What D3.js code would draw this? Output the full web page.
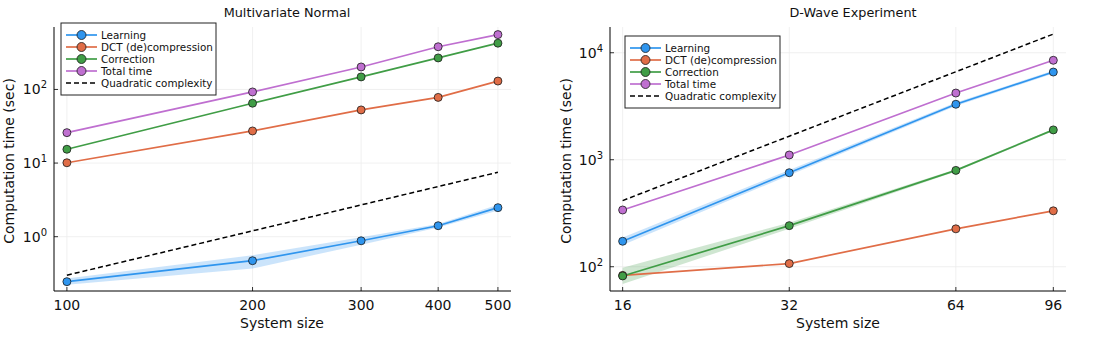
<!DOCTYPE html>
<html>
<head>
<meta charset="utf-8">
<script src="https://cdn.jsdelivr.net/npm/d3@7"></script>
<style>
  body { margin: 0; background: #fff; }
  svg text { font-family: "DejaVu Sans", sans-serif; fill: #111; }
</style>
</head>
<body>
<div id="chart"></div>
<script>
// ---- data: Multivariate Normal (left) ----
var mvnSizes = [100, 200, 300, 400, 500]
var mvnLearning = [0.245, 0.472, 0.88, 1.41, 2.48]
var mvnLearningLo = [0.222, 0.37, 0.78, 1.33, 2.27]
var mvnLearningHi = [0.27, 0.56, 0.98, 1.49, 2.72]
var mvnDct = [10.1, 27.3, 52.7, 78, 130]
var mvnCorrection = [15.4, 65, 148, 268, 425]
var mvnTotal = [25.9, 92.5, 202, 380, 556]
var mvnQuadratic = [0.3, 1.2, 2.7, 4.8, 7.5]

// ---- data: D-Wave Experiment (right) ----
var dwSizes = [16, 32, 64, 96]
var dwLearning = [173, 756, 3300, 6600]
var dwLearningLo = [160, 715, 3180, 6380]
var dwLearningHi = [188, 800, 3420, 6820]
var dwDct = [83, 107, 226, 333]
var dwCorrection = [82, 242, 795, 1900]
var dwCorrectionLo = [69, 227, 775, 1860]
var dwCorrectionHi = [98, 258, 815, 1940]
var dwTotal = [339, 1107, 4200, 8500]
var dwQuadratic = [415, 1660, 6640, 14940]

var xTicksMvn = [100, 200, 300, 400, 500]
var xTicksDw = [16, 32, 64, 96]
var yTicksMvn = [0, 1, 2]   // exponents
var yTicksDw = [2, 3, 4]

var seriesNames = ["Learning", "DCT (de)compression", "Correction", "Total time", "Quadratic complexity"]
var colors = ["#2f95ee", "#e06d47", "#409d46", "#bf6fd0"]

var width = 1110
var height = 337

var svg = d3.select("#chart").append("svg")
    .attr("width", width)
    .attr("height", height)

function draw_panel(p) {
    var g = svg.append("g")
    var x = d3.scaleLog().domain(p.xDomain).range([p.left, p.right])
    var y = d3.scaleLog().domain(p.yDomain).range([p.bottom, p.top])

    // grid
    g.selectAll(".gx").data(p.xTicks).enter().append("line")
        .attr("x1", d => x(d)).attr("x2", d => x(d))
        .attr("y1", p.top).attr("y2", p.bottom)
        .attr("stroke", "#ececec").attr("stroke-width", 0.8)
    g.selectAll(".gy").data(p.yTicks).enter().append("line")
        .attr("x1", p.left).attr("x2", p.right)
        .attr("y1", d => y(Math.pow(10, d))).attr("y2", d => y(Math.pow(10, d)))
        .attr("stroke", "#ececec").attr("stroke-width", 0.8)

    // ribbons
    p.bands.forEach(function(b) {
        var area = d3.area()
            .x((d, i) => x(p.sizes[i]))
            .y0((d, i) => y(b.lo[i]))
            .y1((d, i) => y(b.hi[i]))
        g.append("path").datum(b.lo)
            .attr("d", area)
            .attr("fill", b.color)
            .attr("opacity", 0.25)
    })

    var line = d3.line().x((d, i) => x(p.sizes[i])).y(d => y(d))

    // quadratic reference
    g.append("path").datum(p.quad)
        .attr("d", line)
        .attr("fill", "none")
        .attr("stroke", "#000")
        .attr("stroke-width", 1.5)
        .attr("stroke-dasharray", "5,3")

    p.series.forEach(function(s, k) {
        g.append("path").datum(s)
            .attr("d", line)
            .attr("fill", "none")
            .attr("stroke", colors[k])
            .attr("stroke-width", 1.7)
    })
    p.series.forEach(function(s, k) {
        g.selectAll(null).data(s).enter().append("circle")
            .attr("cx", (d, i) => x(p.sizes[i]))
            .attr("cy", d => y(d))
            .attr("r", 4)
            .attr("fill", colors[k])
            .attr("stroke", "#1a1a1a")
            .attr("stroke-width", 0.8)
    })

    // axes (left + bottom spines)
    g.append("line").attr("x1", p.left).attr("x2", p.left)
        .attr("y1", p.top).attr("y2", p.bottom)
        .attr("stroke", "#000").attr("stroke-width", 1)
    g.append("line").attr("x1", p.left).attr("x2", p.right)
        .attr("y1", p.bottom).attr("y2", p.bottom)
        .attr("stroke", "#000").attr("stroke-width", 1)
    g.selectAll(".tx").data(p.xTicks).enter().append("line")
        .attr("x1", d => x(d)).attr("x2", d => x(d))
        .attr("y1", p.bottom).attr("y2", p.bottom - 4)
        .attr("stroke", "#000").attr("stroke-width", 0.8)
    g.selectAll(".ty").data(p.yTicks).enter().append("line")
        .attr("x1", p.left).attr("x2", p.left + 4)
        .attr("y1", d => y(Math.pow(10, d))).attr("y2", d => y(Math.pow(10, d)))
        .attr("stroke", "#000").attr("stroke-width", 0.8)

    g.selectAll(".lx").data(p.xTicks).enter().append("text")
        .attr("x", d => x(d))
        .attr("y", p.bottom + 19)
        .attr("text-anchor", "middle")
        .attr("font-size", 14)
        .text(d => d)

    var yl = g.selectAll(".ly").data(p.yTicks).enter().append("text")
        .attr("x", p.left - 7)
        .attr("y", d => y(Math.pow(10, d)) + 5)
        .attr("text-anchor", "end")
        .attr("font-size", 14)
    yl.append("tspan").text("10")
    yl.append("tspan").attr("dy", -6).attr("font-size", 10).text(d => d)

    // titles and labels
    g.append("text").attr("x", p.titleX).attr("y", 17)
        .attr("text-anchor", "middle").attr("font-size", 12.8)
        .text(p.title)
    g.append("text").attr("x", p.xlabX).attr("y", 328)
        .attr("text-anchor", "middle").attr("font-size", 14)
        .text("System size")
    g.append("text")
        .attr("transform", "translate(" + p.ylabX + "," + ((p.top + p.bottom) / 2 + 2) + ") rotate(-90)")
        .attr("text-anchor", "middle").attr("font-size", 14)
        .text("Computation time (sec)")

    // legend
    var lg = g.append("g").attr("transform", "translate(" + p.legX + "," + p.legY + ")")
    lg.append("rect").attr("x", 0).attr("y", 0)
        .attr("width", p.legW).attr("height", 72)
        .attr("fill", "#fff").attr("stroke", "#222").attr("stroke-width", 1)
    seriesNames.forEach(function(name, k) {
        var yy = 12 + k * 12
        lg.append("line").attr("x1", 5).attr("x2", 36).attr("y1", yy).attr("y2", yy)
            .attr("stroke", k < 4 ? colors[k] : "#000")
            .attr("stroke-width", k < 4 ? 1.7 : 1.5)
            .attr("stroke-dasharray", k < 4 ? null : "5,3")
        if (k < 4) {
            lg.append("circle").attr("cx", 20.5).attr("cy", yy).attr("r", 4.5)
                .attr("fill", colors[k]).attr("stroke", "#1a1a1a").attr("stroke-width", 0.8)
        }
        lg.append("text").attr("x", 40).attr("y", yy + 3.8)
            .attr("font-size", 10.4).text(name)
    })
}

draw_panel({
    left: 54, right: 511, top: 27, bottom: 291,
    xDomain: [95.3, 525], yDomain: [0.183, 705],
    xTicks: xTicksMvn, yTicks: yTicksMvn,
    sizes: mvnSizes,
    series: [mvnLearning, mvnDct, mvnCorrection, mvnTotal],
    quad: mvnQuadratic,
    bands: [{lo: mvnLearningLo, hi: mvnLearningHi, color: colors[0]}],
    title: "Multivariate Normal", titleX: 287, xlabX: 282, ylabX: 14,
    legX: 61, legY: 23, legW: 155
})

draw_panel({
    left: 610, right: 1066, top: 27, bottom: 291,
    xDomain: [15.18, 101.2], yDomain: [59.3, 17400],
    xTicks: xTicksDw, yTicks: yTicksDw,
    sizes: dwSizes,
    series: [dwLearning, dwDct, dwCorrection, dwTotal],
    quad: dwQuadratic,
    bands: [{lo: dwLearningLo, hi: dwLearningHi, color: colors[0]},
            {lo: dwCorrectionLo, hi: dwCorrectionHi, color: colors[2]}],
    title: "D-Wave Experiment", titleX: 853, xlabX: 838, ylabX: 571,
    legX: 625, legY: 36, legW: 155
})
</script>
</body>
</html>
